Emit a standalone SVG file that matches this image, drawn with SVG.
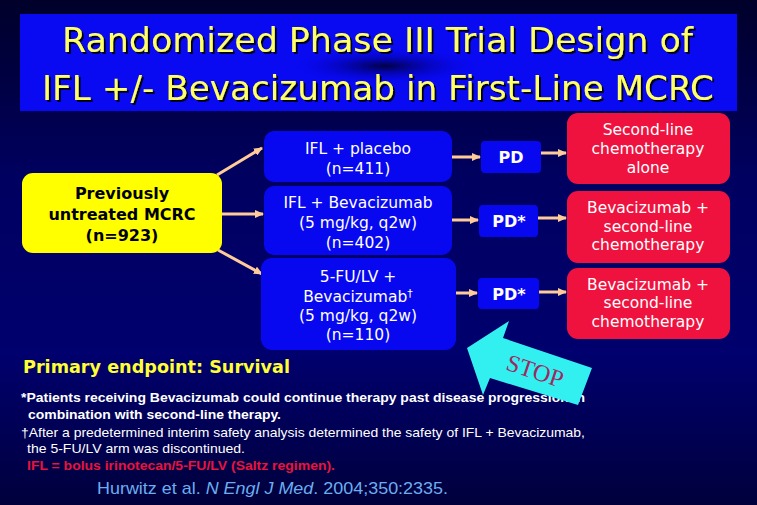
<svg xmlns="http://www.w3.org/2000/svg" width="757" height="505" viewBox="0 0 757 505">
<defs>
<linearGradient id="bg" x1="0" y1="0" x2="0" y2="1">
<stop offset="0" stop-color="#00002a"/>
<stop offset="0.35" stop-color="#000060"/>
<stop offset="0.7" stop-color="#00006e"/>
<stop offset="1" stop-color="#00003c"/>
</linearGradient>
<radialGradient id="blob" cx="0.5" cy="0.5" r="0.5">
<stop offset="0" stop-color="#000030" stop-opacity="0.9"/>
<stop offset="1" stop-color="#0000f0" stop-opacity="0"/>
</radialGradient>
<filter id="shadow" x="-5%" y="-20%" width="110%" height="140%">
<feDropShadow dx="2" dy="2" stdDeviation="0.6" flood-color="#000022" flood-opacity="1"/>
</filter>
<marker id="ah" markerWidth="9" markerHeight="8" refX="8" refY="4" orient="auto" markerUnits="userSpaceOnUse">
<path d="M0,0 L9,4 L0,8 Z" fill="#ffcc99"/>
</marker>
<style>
.blue{fill:#0808f0}
.red{fill:#f0123e}
.yel{fill:#ffff00}
.bt{font-family:"DejaVu Sans",Verdana,sans-serif;font-size:15.5px;fill:#ffffff;text-anchor:middle}
.pd{font-family:"DejaVu Sans",Verdana,sans-serif;font-size:16px;font-weight:bold;fill:#ffffff;text-anchor:middle}
.yt{font-family:"DejaVu Sans",Verdana,sans-serif;font-size:16px;font-weight:bold;fill:#000000;text-anchor:middle}
.conn{stroke:#ffcc99;stroke-width:3;fill:none;marker-end:url(#ah)}
.title{font-family:"DejaVu Sans",sans-serif;font-size:33px;fill:#ffff66;filter:url(#shadow)}
.fn{font-family:"Liberation Sans",Arial,sans-serif;font-size:13.5px;fill:#ffffff}
</style>
</defs>
<rect width="757" height="505" fill="url(#bg)"/>

<g id="title">
<rect x="20" y="14" width="717" height="97" fill="#0a0af2"/>
<ellipse cx="385" cy="66" rx="95" ry="18" fill="url(#blob)"/>
<text class="title" x="62" y="52" textLength="631" lengthAdjust="spacingAndGlyphs">Randomized Phase III Trial Design of</text>
<text class="title" x="42" y="100" textLength="672" lengthAdjust="spacingAndGlyphs">IFL +/- Bevacizumab in First-Line MCRC</text>
</g>

<g id="connectors">
<line class="conn" x1="217" y1="175" x2="262" y2="148"/>
<line class="conn" x1="222" y1="214" x2="263" y2="214"/>
<line class="conn" x1="218" y1="250" x2="262" y2="274"/>
<line class="conn" x1="452" y1="157" x2="480" y2="157"/>
<line class="conn" x1="452" y1="220" x2="478" y2="220"/>
<line class="conn" x1="456" y1="293" x2="477" y2="293"/>
<line class="conn" x1="541" y1="153" x2="566" y2="153"/>
<line class="conn" x1="538" y1="218" x2="566" y2="218"/>
<line class="conn" x1="539" y1="292" x2="566" y2="292"/>
</g>

<g id="start">
<rect class="yel" x="22" y="173" width="200" height="80" rx="11"/>
<text class="yt" x="122" y="199">Previously</text>
<text class="yt" x="122" y="220">untreated MCRC</text>
<text class="yt" x="122" y="241">(n=923)</text>
</g>

<g id="arm1">
<rect class="blue" x="264" y="131" width="188" height="51" rx="10"/>
<text class="bt" x="358" y="154">IFL + placebo</text>
<text class="bt" x="358" y="174">(n=411)</text>
</g>
<g id="arm2">
<rect class="blue" x="264" y="186" width="188" height="69" rx="10"/>
<text class="bt" x="358" y="208">IFL + Bevacizumab</text>
<text class="bt" x="358" y="228">(5 mg/kg, q2w)</text>
<text class="bt" x="358" y="248">(n=402)</text>
</g>
<g id="arm3">
<rect class="blue" x="261" y="258" width="195" height="92" rx="11"/>
<text class="bt" x="358" y="282">5-FU/LV +</text>
<text class="bt" x="358" y="302">Bevacizumab<tspan font-size="11" dy="-5">†</tspan></text>
<text class="bt" x="358" y="321">(5 mg/kg, q2w)</text>
<text class="bt" x="358" y="340">(n=110)</text>
</g>

<g id="pd1">
<rect class="blue" x="481" y="141" width="60" height="32" rx="4"/>
<text class="pd" x="511" y="163">PD</text>
</g>
<g id="pd2">
<rect class="blue" x="479" y="205" width="59" height="32" rx="4"/>
<text class="pd" x="509" y="227">PD*</text>
</g>
<g id="pd3">
<rect class="blue" x="478" y="278" width="61" height="31" rx="4"/>
<text class="pd" x="509" y="300">PD*</text>
</g>

<g id="second1">
<rect class="red" x="567" y="113" width="163" height="71" rx="11"/>
<text class="bt" x="648" y="135">Second-line</text>
<text class="bt" x="648" y="154">chemotherapy</text>
<text class="bt" x="648" y="173">alone</text>
</g>
<g id="second2">
<rect class="red" x="567" y="191" width="163" height="72" rx="11"/>
<text class="bt" x="648" y="213">Bevacizumab +</text>
<text class="bt" x="648" y="232">second-line</text>
<text class="bt" x="648" y="250">chemotherapy</text>
</g>
<g id="second3">
<rect class="red" x="567" y="268" width="163" height="71" rx="11"/>
<text class="bt" x="648" y="290">Bevacizumab +</text>
<text class="bt" x="648" y="308">second-line</text>
<text class="bt" x="648" y="327">chemotherapy</text>
</g>

<text x="23" y="373" font-family="DejaVu Sans, Verdana, sans-serif" font-size="17.5" font-weight="bold" fill="#ffff33" textLength="267" lengthAdjust="spacingAndGlyphs">Primary endpoint: Survival</text>

<g id="footnotes">
<text class="fn" x="21" y="402" font-weight="bold" textLength="564" lengthAdjust="spacingAndGlyphs">*Patients receiving Bevacizumab could continue therapy past disease progression in</text>
<text class="fn" x="28" y="419" font-weight="bold" textLength="253" lengthAdjust="spacingAndGlyphs">combination with second-line therapy.</text>
<text class="fn" x="21" y="437" textLength="564" lengthAdjust="spacingAndGlyphs">†After a predetermined interim safety analysis determined the safety of IFL + Bevacizumab,</text>
<text class="fn" x="27" y="453" textLength="218" lengthAdjust="spacingAndGlyphs">the 5-FU/LV arm was discontinued.</text>
<text class="fn" x="27" y="470" font-weight="bold" style="fill:#e8143c" textLength="308" lengthAdjust="spacingAndGlyphs">IFL = bolus irinotecan/5-FU/LV (Saltz regimen).</text>
<text x="97" y="494" font-family="Liberation Sans, Arial, sans-serif" font-size="17" fill="#6aaef0" textLength="351" lengthAdjust="spacingAndGlyphs">Hurwitz et al. <tspan font-style="italic">N Engl J Med</tspan>. 2004;350:2335.</text>
</g>

<g id="stop">
<polygon points="467,348 509,321 503,338 592,368 578,405 490,378 483,395" fill="#33f0f0"/>
<text x="535" y="379" transform="rotate(18.6 535 371)" font-family="Liberation Serif, Times New Roman, serif" font-size="24" fill="#a02860" text-anchor="middle">STOP</text>
</g>
</svg>
